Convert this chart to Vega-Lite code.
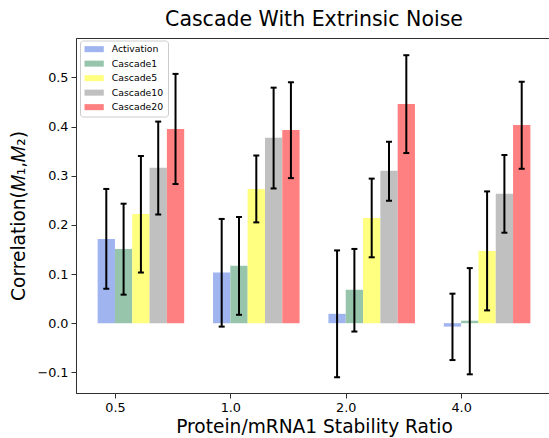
{
  "$schema": "https://vega.github.io/schema/vega-lite/v6.json",
  "autosize": "none",
  "width": 476,
  "height": 355,
  "padding": {"left": 76, "top": 38, "right": 0, "bottom": 45},
  "config": {
    "font": "DejaVu Sans",
    "view": {"stroke": "#303030", "strokeWidth": 1},
    "axis": {"grid": false, "domainColor": "#303030", "tickColor": "#303030", "labelColor": "black", "titleColor": "black", "titleFontWeight": "normal", "labelFont": "DejaVu Sans", "titleFont": "DejaVu Sans"}
  },
  "title": {"text": "Cascade With Extrinsic Noise", "fontSize": 20.5, "font": "DejaVu Sans", "fontWeight": "normal", "color": "black", "offset": 8, "anchor": "middle"},
  "data": {"values": [
    {"ratio": "0.5", "series": "Activation", "value": 0.171, "lo": 0.070, "hi": 0.273},
    {"ratio": "0.5", "series": "Cascade1", "value": 0.151, "lo": 0.058, "hi": 0.243},
    {"ratio": "0.5", "series": "Cascade5", "value": 0.222, "lo": 0.103, "hi": 0.340},
    {"ratio": "0.5", "series": "Cascade10", "value": 0.316, "lo": 0.221, "hi": 0.410},
    {"ratio": "0.5", "series": "Cascade20", "value": 0.395, "lo": 0.283, "hi": 0.507},
    {"ratio": "1.0", "series": "Activation", "value": 0.103, "lo": -0.007, "hi": 0.212},
    {"ratio": "1.0", "series": "Cascade1", "value": 0.117, "lo": 0.017, "hi": 0.216},
    {"ratio": "1.0", "series": "Cascade5", "value": 0.273, "lo": 0.205, "hi": 0.341},
    {"ratio": "1.0", "series": "Cascade10", "value": 0.377, "lo": 0.274, "hi": 0.479},
    {"ratio": "1.0", "series": "Cascade20", "value": 0.393, "lo": 0.295, "hi": 0.490},
    {"ratio": "2.0", "series": "Activation", "value": 0.019, "lo": -0.110, "hi": 0.148},
    {"ratio": "2.0", "series": "Cascade1", "value": 0.068, "lo": -0.017, "hi": 0.151},
    {"ratio": "2.0", "series": "Cascade5", "value": 0.214, "lo": 0.134, "hi": 0.294},
    {"ratio": "2.0", "series": "Cascade10", "value": 0.310, "lo": 0.249, "hi": 0.369},
    {"ratio": "2.0", "series": "Cascade20", "value": 0.446, "lo": 0.346, "hi": 0.545},
    {"ratio": "4.0", "series": "Activation", "value": -0.007, "lo": -0.075, "hi": 0.060},
    {"ratio": "4.0", "series": "Cascade1", "value": 0.005, "lo": -0.104, "hi": 0.112},
    {"ratio": "4.0", "series": "Cascade5", "value": 0.147, "lo": 0.026, "hi": 0.268},
    {"ratio": "4.0", "series": "Cascade10", "value": 0.263, "lo": 0.184, "hi": 0.342},
    {"ratio": "4.0", "series": "Cascade20", "value": 0.403, "lo": 0.314, "hi": 0.491}
  ]},
  "encoding": {
    "x": {
      "field": "ratio", "type": "nominal", "sort": ["0.5", "1.0", "2.0", "4.0"],
      "scale": {"paddingInner": 0.25, "paddingOuter": 0.1875},
      "axis": {"title": "Protein/mRNA1 Stability Ratio", "titleFontSize": 18.6, "titlePadding": 4, "labelFontSize": 12.8, "labelAngle": 0, "labelPadding": 3, "tickSize": 5, "tickOffset": -26}
    },
    "xOffset": {"field": "series", "type": "nominal", "sort": ["Activation", "Cascade1", "Cascade5", "Cascade10", "Cascade20"], "scale": {"paddingInner": 0, "paddingOuter": 0}}
  },
  "layer": [
    {
      "mark": {"type": "bar"},
      "encoding": {
        "y": {
          "field": "value", "type": "quantitative",
          "scale": {"domain": [-0.142, 0.58], "nice": false, "zero": false},
          "axis": {"values": [-0.1, 0, 0.1, 0.2, 0.3, 0.4, 0.5], "format": ".1f", "title": "Correlation(𝑀₁,𝑀₂)", "titleFontSize": 18.6, "titlePadding": 8, "labelFontSize": 12.8, "labelPadding": 3, "tickSize": 5}
        },
        "color": {
          "field": "series", "type": "nominal",
          "scale": {"domain": ["Activation", "Cascade1", "Cascade5", "Cascade10", "Cascade20"], "range": ["#a0b4f0", "#96c5ab", "#ffff80", "#c0c0c0", "#ff8080"]},
          "legend": {
            "title": null, "orient": "none", "legendX": 4, "legendY": 2.5,
            "fillColor": "white", "strokeColor": "#cccccc", "cornerRadius": 3, "padding": 4,
            "labelFontSize": 9.3, "labelColor": "black", "labelFont": "DejaVu Sans",
            "symbolType": "M-2.14,-0.67H2.14V0.67H-2.14Z", "symbolSize": 81, "symbolStrokeWidth": 0, "symbolOpacity": 1,
            "rowPadding": 4.5, "symbolOffset": 5.5, "labelOffset": 13
          }
        }
      }
    },
    {
      "mark": {"type": "rule", "color": "black", "strokeWidth": 2},
      "encoding": {
        "y": {"field": "lo", "type": "quantitative"},
        "y2": {"field": "hi"}
      }
    },
    {
      "mark": {"type": "tick", "orient": "horizontal", "color": "black", "thickness": 2, "size": 6, "opacity": 1},
      "encoding": {"y": {"field": "lo", "type": "quantitative"}}
    },
    {
      "mark": {"type": "tick", "orient": "horizontal", "color": "black", "thickness": 2, "size": 6, "opacity": 1},
      "encoding": {"y": {"field": "hi", "type": "quantitative"}}
    }
  ]
}
